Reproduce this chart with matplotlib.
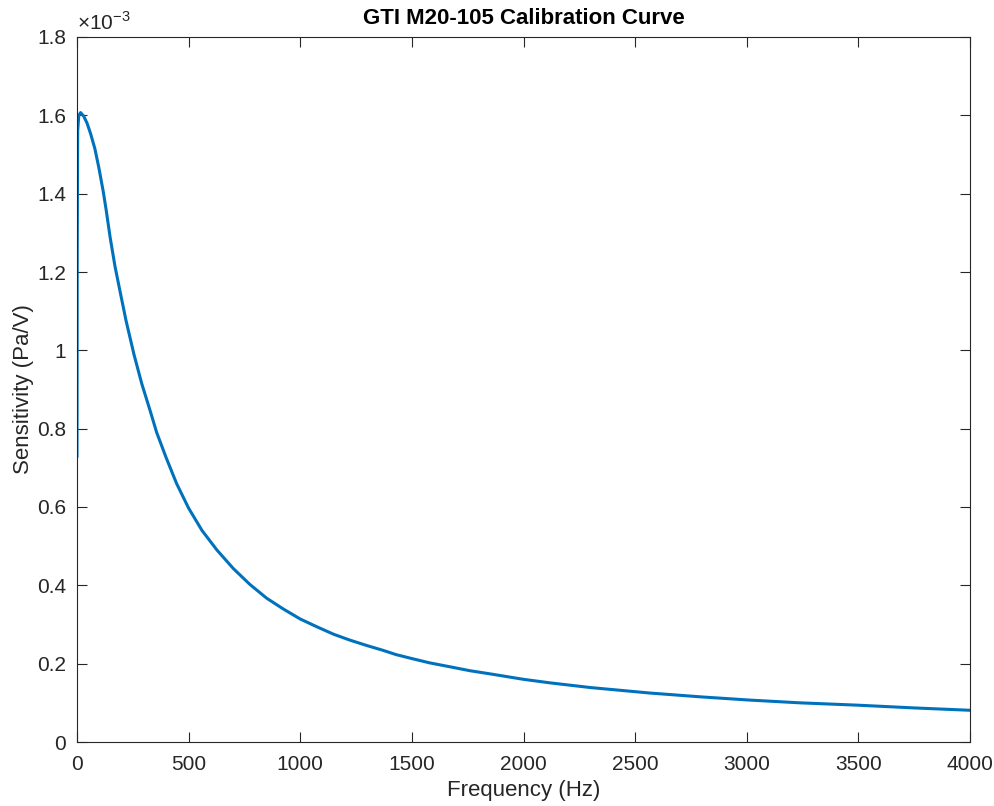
import matplotlib
matplotlib.use("Agg")
import matplotlib.pyplot as plt
import numpy as np

plt.rcParams['font.family'] = ['Liberation Sans', 'DejaVu Sans']
plt.rcParams['mathtext.fontset'] = 'custom'
plt.rcParams['mathtext.rm'] = 'Liberation Sans'

# Data (frequency in Hz, sensitivity in 1e-3 Pa/V)
freq_hz = [0, 1, 3, 8, 16, 30, 45, 61, 80, 98, 118, 131, 148, 170, 193, 220, 255,
           290, 327, 357, 400, 446, 500, 560, 627, 700, 775, 850, 923, 1000, 1075,
           1150, 1223, 1300, 1371, 1430, 1500, 1580, 1671, 1760, 1850, 2000, 2119,
           2300, 2566, 2800, 3014, 3238, 3498, 3750, 4000]
sens_e3 = [0.73, 1.25, 1.56, 1.60, 1.607, 1.598, 1.58, 1.553, 1.515, 1.466, 1.404,
           1.357, 1.290, 1.215, 1.150, 1.075, 0.990, 0.915, 0.847, 0.790, 0.725,
           0.660, 0.597, 0.540, 0.490, 0.443, 0.402, 0.367, 0.340, 0.314, 0.294,
           0.275, 0.260, 0.246, 0.234, 0.223, 0.213, 0.202, 0.192, 0.182, 0.174,
           0.160, 0.151, 0.139, 0.125, 0.115, 0.107, 0.100, 0.094, 0.087, 0.081]

x_ticks = [0, 500, 1000, 1500, 2000, 2500, 3000, 3500, 4000]
y_ticks_e3 = [0, 0.2, 0.4, 0.6, 0.8, 1.0, 1.2, 1.4, 1.6, 1.8]
y_tick_labels = ['0', '0.2', '0.4', '0.6', '0.8', '1', '1.2', '1.4', '1.6', '1.8']

title = 'GTI M20-105 Calibration Curve'
xlabel = 'Frequency (Hz)'
ylabel = 'Sensitivity (Pa/V)'

axis_color = '#262626'
line_color = '#0072BD'

fig = plt.figure(figsize=(9.95, 8.06), dpi=100)
ax = fig.add_axes([77/995, 1 - 742/806, (970 - 77)/995, (742 - 37)/806])

ax.plot(freq_hz, np.array(sens_e3) * 1e-3, color=line_color, lw=2.2,
        solid_joinstyle='round')

ax.set_xlim(0, 4000)
ax.set_ylim(0, 1.8e-3)
ax.set_xticks(x_ticks)
ax.set_xticklabels([str(t) for t in x_ticks])
ax.set_yticks(np.array(y_ticks_e3) * 1e-3)
ax.set_yticklabels(y_tick_labels)

ax.tick_params(direction='in', top=True, right=True, length=7, width=0.8,
               colors=axis_color, labelsize=15)
ax.tick_params(axis='x', pad=9)
ax.tick_params(axis='y', pad=8)
for s in ax.spines.values():
    s.set_color(axis_color)
    s.set_linewidth(0.8)

ax.set_title(title, fontsize=16, fontweight='bold', color='black', pad=9)
ax.set_xlabel(xlabel, fontsize=16, color=axis_color, labelpad=5)
ax.set_ylabel(ylabel, fontsize=16, color=axis_color, labelpad=2)

ax.text(0.0, 1.004, '×10$^{\\mathrm{-3}}$', transform=ax.transAxes,
        ha='left', va='bottom', fontsize=15, color=axis_color)

fig.savefig('out.png', dpi=100)
